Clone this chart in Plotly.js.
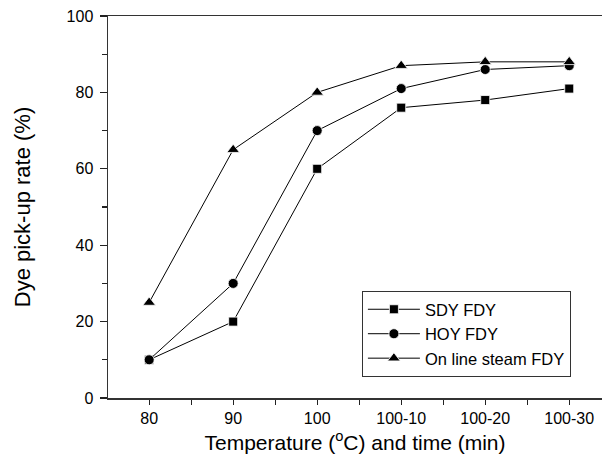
<!DOCTYPE html>
<html>
<head>
<meta charset="utf-8">
<script src="https://cdn.plot.ly/plotly-3.0.1.min.js"></script>
<style>html,body{margin:0;padding:0;background:#fff;}#chart{width:602px;height:466px;}</style>
</head>
<body>
<div id="chart"></div>
<script>
const categories = ["80", "90", "100", "100-10", "100-20", "100-30"];
const sdyFdy = [10, 20, 60, 76, 78, 81];
const hoyFdy = [10, 30, 70, 81, 86, 87];
const onlineSteamFdy = [25, 65, 80, 87, 88, 88];
const yTicks = [0, 20, 40, 60, 80, 100];

const xIdx = categories.map((c, i) => i);
const font = "'Liberation Sans', Arial, sans-serif";

function series(name, y, symbol, size) {
  return {
    type: "scatter", mode: "lines+markers", name: name,
    x: xIdx, y: y,
    line: {color: "#000", width: 1},
    marker: {symbol: symbol, size: size, color: "#000", line: {color: "#fff", width: 0.8}}
  };
}

const data = [
  series("SDY FDY", sdyFdy, "square", 9),
  series("HOY FDY", hoyFdy, "circle", 10),
  series("On line steam FDY", onlineSteamFdy, "triangle-up", 11)
];

const layout = {
  width: 602, height: 466,
  margin: {l: 108, r: 0, t: 16, b: 68},
  paper_bgcolor: "#fff", plot_bgcolor: "#fff",
  font: {family: font, color: "#000", size: 16},
  showlegend: true,
  legend: {
    x: 0.514, y: 0.28, xanchor: "left", yanchor: "top",
    bordercolor: "#333", borderwidth: 1, bgcolor: "#fff",
    font: {family: font, size: 16.5, color: "#000"},
    tracegroupgap: 0, itemwidth: 52
  },
  xaxis: {
    range: [-0.49, 5.39],
    tickmode: "array", tickvals: xIdx, ticktext: categories,
    ticks: "outside", ticklen: 5, tickwidth: 1.2, tickcolor: "#222",
    minor: {tickmode: "linear", tick0: 0.5, dtick: 1, ticks: "outside", ticklen: 5, tickwidth: 1.2, tickcolor: "#222"},
    showline: true, linecolor: "#333", linewidth: 1.5, mirror: true,
    showgrid: false, zeroline: false,
    tickfont: {family: font, size: 16, color: "#000"},
    title: {text: "Temperature (<sup>o</sup>C) and time (min)", font: {family: font, size: 21, color: "#000"}, standoff: 9}
  },
  yaxis: {
    range: [0, 100],
    tickmode: "array", tickvals: yTicks,
    ticks: "outside", ticklen: 7, tickwidth: 1.2, tickcolor: "#222",
    minor: {tickmode: "linear", tick0: 10, dtick: 20, ticks: "outside", ticklen: 5, tickwidth: 1.2, tickcolor: "#222"},
    showline: true, linecolor: "#333", linewidth: 1.5,
    showgrid: false, zeroline: false, ticklabelstandoff: 3,
    tickfont: {family: font, size: 16, color: "#000"},
    title: {text: "Dye pick-up rate (%)", font: {family: font, size: 22, color: "#000"}, standoff: 30}
  }
};

Plotly.newPlot("chart", data, layout, {displayModeBar: false, staticPlot: true});
</script>
</body>
</html>
